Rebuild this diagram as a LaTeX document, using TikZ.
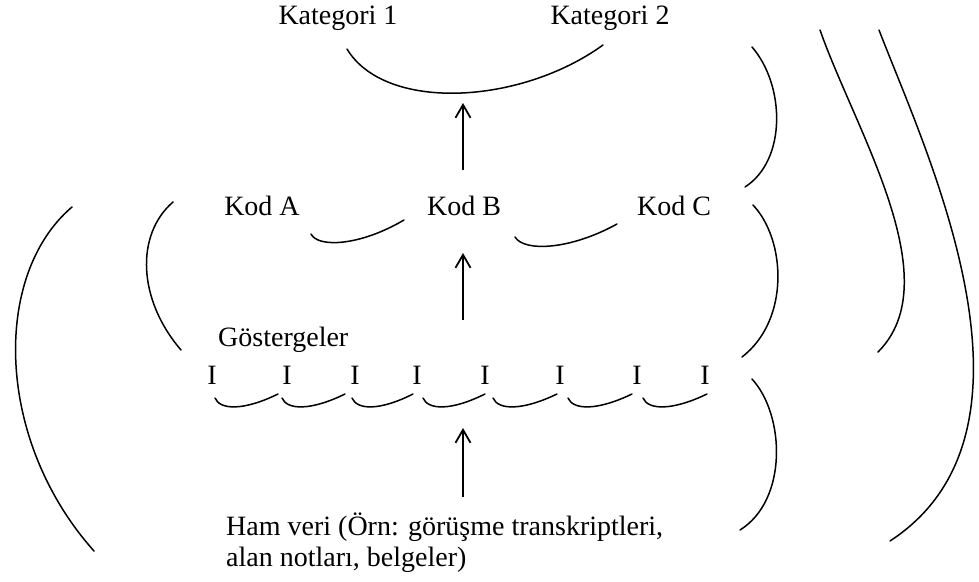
\documentclass[tikz,border=0pt]{standalone}
\usepackage{fontspec}
\setmainfont{Liberation Serif}
\usetikzlibrary{arrows.meta}

\begin{document}
\begin{tikzpicture}[
    x=1pt, y=-1pt,
    lbl/.style={font=\fontsize{28}{31}\selectfont, inner sep=0pt, anchor=base},
    arrow/.style={-{Straight Barb[length=13pt, width=15pt]}, line width=1.8pt},
    curve/.style={line width=1.5pt, line cap=round}
  ]
    \useasboundingbox (0,0) rectangle (979,581);
    \node[lbl] (kat1) at (338,24) {Kategori 1};
    \node[lbl] (kat2) at (610,24) {Kategori 2};
    \node[lbl] (koda) at (262,215) {Kod A};
    \node[lbl] (kodb) at (464,215) {Kod B};
    \node[lbl] (kodc) at (674,215) {Kod C};
    \node[lbl, anchor=base west] (gost) at (218,346) {Göstergeler};
    \foreach \x [count=\i] in {212,287,355,417,485,560,637,705}
      \node[lbl] (i\i) at (\x,384) {I};
    \node[lbl, anchor=base west] (ham) at (226,535) {Ham veri (Örn: görüşme transkriptleri,};
    \node[lbl, anchor=base west] (ham2) at (226,566) {alan notları, belgeler)};

    \coordinate (katarc) at (463,103);
    \coordinate (kodtop) at (463,170);
    \coordinate (kodarc) at (463,253);
    \coordinate (gosttop) at (463,320);
    \coordinate (iarc) at (463,428);
    \coordinate (hamtop) at (463,497);
    \draw[arrow] (kodtop) -- (katarc);
    \draw[arrow] (gosttop) -- (kodarc);
    \draw[arrow] (hamtop) -- (iarc);

    % kavisler
    \draw[curve] (347,49) .. controls (385,112) and (520,105) .. (603,45);
    \draw[curve] (311,234) .. controls (318,248) and (360,246) .. (404,220);
    \draw[curve] (515,237) .. controls (524,252) and (570,250) .. (617,224);
    \foreach \xs/\xe in {215/278, 282/345, 352/413, 423/485, 493/557, 568/632, 643/707}
      \draw[curve] (\xs,398) .. controls ({\xs+5},410) and ({\xs+0.45*(\xe-\xs)},411) .. (\xe,394);

    \draw[curve] (173,202) .. controls (135,235) and (138,300) .. (181,350);
    \draw[curve] (72,207) .. controls (-8,275) and (-5,440) .. (94,551);
    \draw[curve] (752,47) .. controls (785,85) and (787,160) .. (745,187);
    \draw[curve] (753,205) .. controls (786,240) and (790,320) .. (742,357);
    \draw[curve] (752,379) .. controls (785,415) and (788,500) .. (740,530);
    \draw[curve] (820,30) .. controls (855,130) and (950,280) .. (878,352);
    \draw[curve] (879,30) .. controls (925,150) and (1060,430) .. (890,541);
\end{tikzpicture}
\end{document}
